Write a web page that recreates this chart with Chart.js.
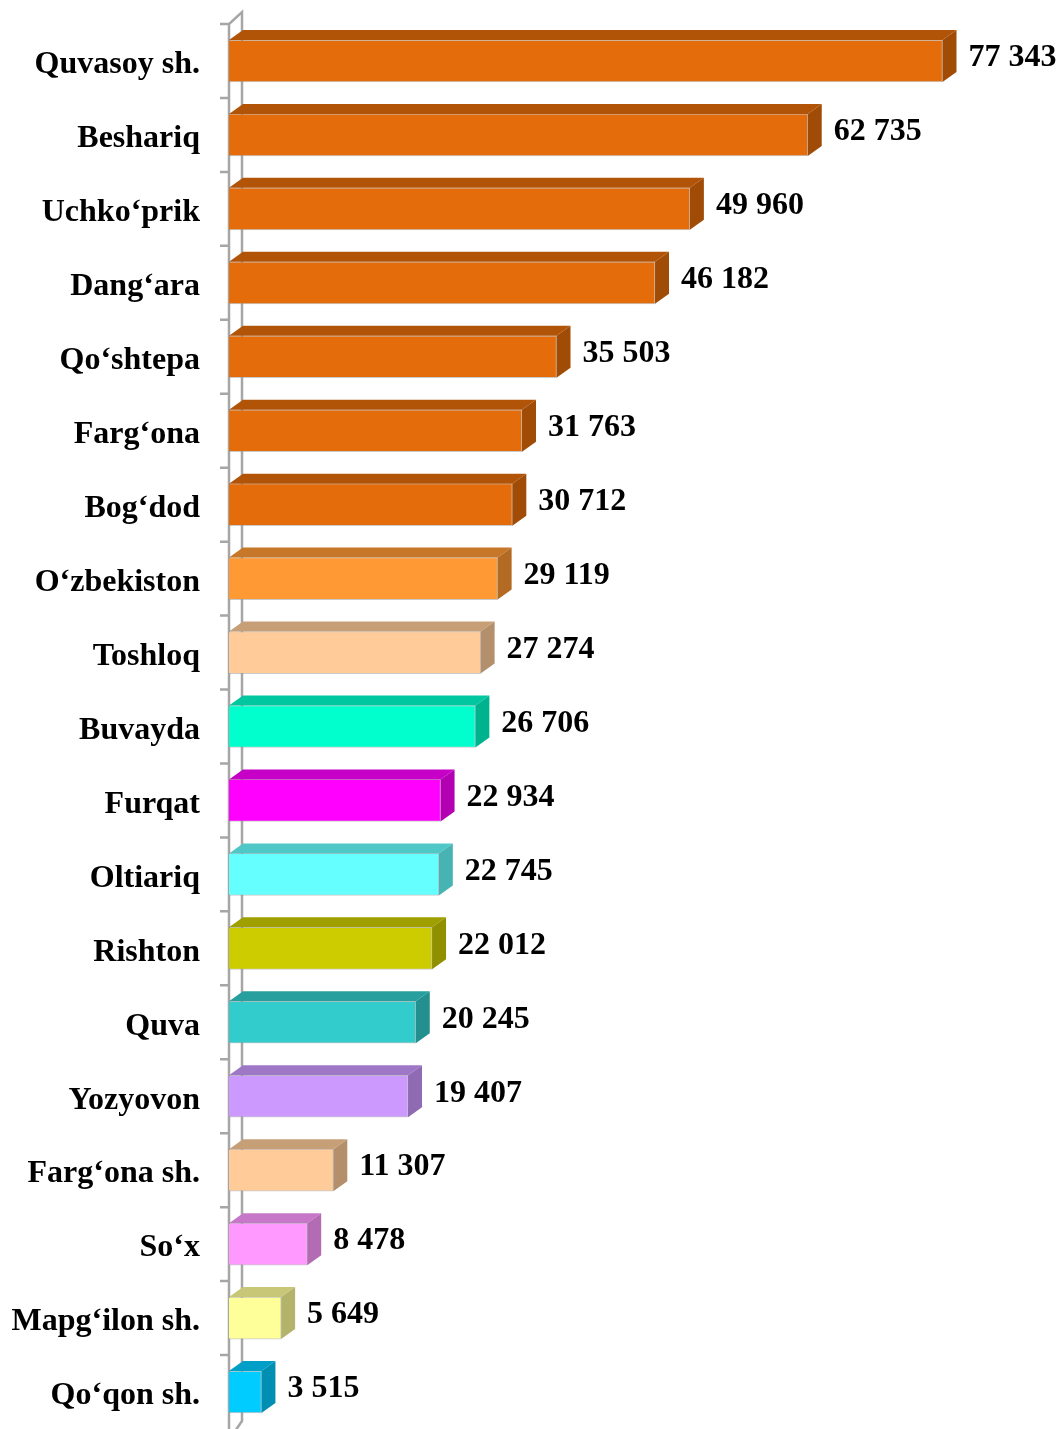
<!DOCTYPE html>
<html>
<head>
<meta charset="utf-8">
<script src="https://cdn.jsdelivr.net/npm/chart.js@4/dist/chart.umd.min.js"></script>
<style>
  html, body { margin: 0; padding: 0; background: #fff; overflow: hidden; }
</style>
</head>
<body>
<canvas id="chart" width="1064" height="1429"></canvas>
<script>
// tumanlar (kategoriyalar)
const districts = [
    "Quvasoy sh.", "Beshariq", "Uchko‘prik", "Dang‘ara", "Qo‘shtepa", "Farg‘ona", "Bog‘dod",
    "O‘zbekiston", "Toshloq", "Buvayda", "Furqat", "Oltiariq", "Rishton", "Quva",
    "Yozyovon", "Farg‘ona sh.", "So‘x", "Mapg‘ilon sh.", "Qo‘qon sh."
];
const values = [
    77343, 62735, 49960, 46182, 35503, 31763, 30712,
    29119, 27274, 26706, 22934, 22745, 22012, 20245,
    19407, 11307, 8478, 5649, 3515
];

// ranglar
const barColors = [
    "#E46C0A", "#E46C0A", "#E46C0A", "#E46C0A", "#E46C0A", "#E46C0A", "#E46C0A",
    "#FF9933", "#FFCC99", "#00FFCC", "#FF00FF", "#66FFFF", "#CCCC00", "#33CCCC",
    "#CC99FF", "#FFCC99", "#FF99FF", "#FFFF99", "#00CCFF"
];

const DX = 14, DY = 10;
const FONT = "bold 32px 'Liberation Serif', 'Times New Roman', serif";

function shade(hex, f) {
    const n = parseInt(hex.slice(1), 16);
    const r = Math.round(((n >> 16) & 255) * f);
    const g = Math.round(((n >> 8) & 255) * f);
    const b = Math.round((n & 255) * f);
    return `rgb(${r},${g},${b})`;
}

function fmt(v) {
    return String(v).replace(/\B(?=(\d{3})+(?!\d))/g, " ");
}

// o'q devori (chap tomondagi kulrang chiziqlar)
const wallPlugin = {
    id: "wall",
    beforeDatasetsDraw(chart) {
        const ctx = chart.ctx;
        const area = chart.chartArea;
        const left = area.left;
        ctx.save();
        ctx.strokeStyle = "#a6a6a6";
        ctx.lineWidth = 2.5;
        ctx.beginPath();
        ctx.moveTo(left, area.bottom + 5);
        ctx.lineTo(left, area.top);
        ctx.lineTo(left + DX - 1, area.top - 12);
        ctx.lineTo(left + DX - 1, area.bottom - 8);
        ctx.lineTo(left + 4, area.bottom + 5);
        ctx.stroke();
        // tik chiziqlari
        const step = (area.bottom - area.top) / districts.length;
        ctx.beginPath();
        for (let i = 0; i < districts.length; i++) {
            const ty = area.top + step * i;
            ctx.moveTo(left - 9, ty);
            ctx.lineTo(left, ty);
        }
        ctx.stroke();
        ctx.restore();
    }
};

// 3D yuzlar va qiymatlar
const boxPlugin = {
    id: "box3d",
    afterDatasetsDraw(chart) {
        const ctx = chart.ctx;
        const meta = chart.getDatasetMeta(0);
        ctx.save();
        meta.data.forEach((el, i) => {
            const p = el.getProps(["x", "y", "base", "height"], true);
            const top = p.y - p.height / 2;
            const bottom = p.y + p.height / 2;
            const col = barColors[i];
            // ustki yuz
            ctx.fillStyle = shade(col, 0.78);
            ctx.beginPath();
            ctx.moveTo(p.base, top);
            ctx.lineTo(p.x, top);
            ctx.lineTo(p.x + DX, top - DY);
            ctx.lineTo(p.base + DX, top - DY);
            ctx.closePath();
            ctx.fill();
            // yon yuz
            ctx.fillStyle = shade(col, 0.7);
            ctx.beginPath();
            ctx.moveTo(p.x, top);
            ctx.lineTo(p.x + DX, top - DY);
            ctx.lineTo(p.x + DX, bottom - DY);
            ctx.lineTo(p.x, bottom);
            ctx.closePath();
            ctx.fill();
            // qiymat
            ctx.fillStyle = "#000";
            ctx.font = FONT;
            ctx.textAlign = "left";
            ctx.textBaseline = "middle";
            ctx.fillText(fmt(values[i]), p.x + DX + 12, p.y - 3);
        });
        ctx.restore();
    }
};

new Chart(document.getElementById("chart"), {
    type: "bar",
    data: {
        labels: districts,
        datasets: [{
            data: values,
            backgroundColor: barColors,
            borderColor: "rgba(150,150,150,0.5)",
            borderWidth: 1,
            barThickness: 42
        }]
    },
    options: {
        indexAxis: "y",
        responsive: false,
        animation: false,
        layout: { padding: { top: 24, right: 97, bottom: 0, left: 0 } },
        plugins: {
            legend: { display: false },
            tooltip: { enabled: false }
        },
        scales: {
            x: { display: false, min: 0, max: 80000 },
            y: {
                afterFit(scale) {
                    scale.width = 229;
                    scale.paddingTop = 0;
                    scale.paddingBottom = 0;
                },
                grid: { display: false, drawTicks: false },
                border: { display: false },
                ticks: {
                    padding: 29,
                    labelOffset: 4,
                    color: "#000",
                    font: { family: "'Liberation Serif', 'Times New Roman', serif", size: 32, weight: "bold" }
                }
            }
        }
    },
    plugins: [wallPlugin, boxPlugin]
});
</script>
</body>
</html>
